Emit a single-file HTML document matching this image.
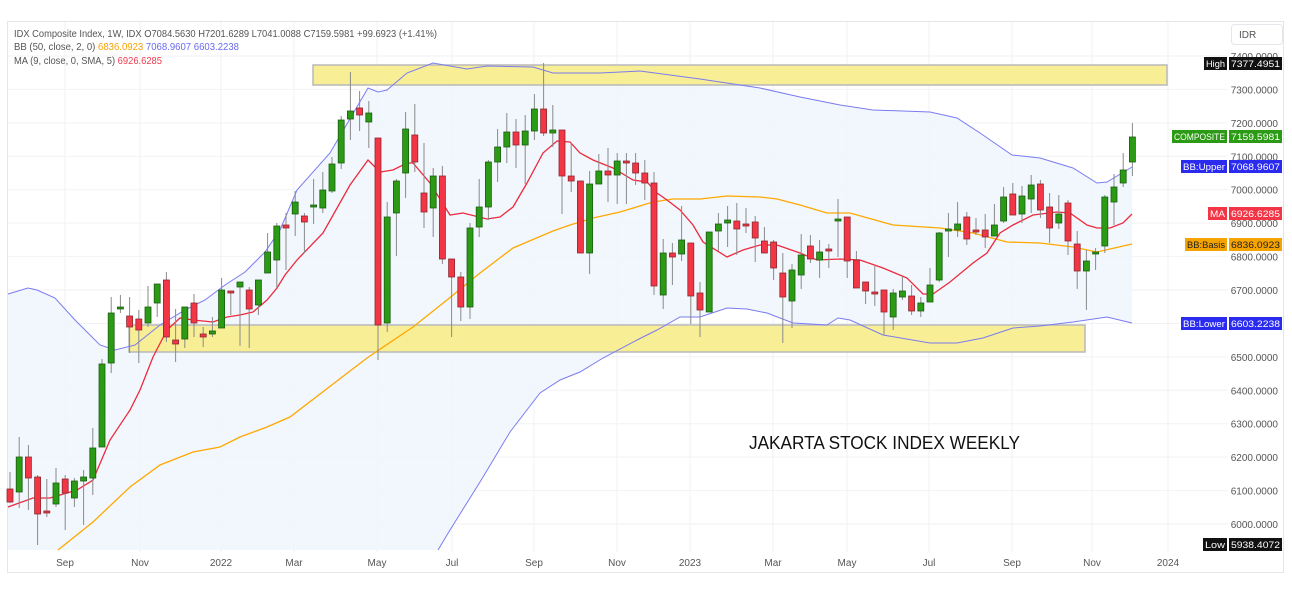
<!DOCTYPE html>
<html><head><meta charset="utf-8"><style>
body{margin:0;background:#fff;}
svg{display:block;font-family:"Liberation Sans","DejaVu Sans",sans-serif;}
</style></head><body>
<svg id="s" width="1292" height="601" viewBox="0 0 1292 601" xmlns="http://www.w3.org/2000/svg">
<rect x="0" y="0" width="1292" height="601" fill="#fff"/>
<rect x="7.5" y="21.5" width="1276" height="551" fill="#fff" stroke="#e4e6eb"/>
<g id="grid" stroke="#f0f2f5" stroke-width="1"></g>
<path id="fill" fill="#eef5fc" fill-opacity="0.8"/>
<rect x="313" y="65" width="854" height="20" fill="#f7ee95" stroke="#b9b9b9" stroke-width="1.5"/>
<rect x="129" y="325" width="956" height="27" fill="#f7ee95" stroke="#b9b9b9" stroke-width="1.5"/>
<polyline id="up" fill="none" stroke="#7b7bf0" stroke-width="1"/>
<polyline id="lo" fill="none" stroke="#7b7bf0" stroke-width="1"/>
<polyline id="bs" fill="none" stroke="#ffa800" stroke-width="1.3"/>
<polyline id="ma" fill="none" stroke="#ee2a3c" stroke-width="1.3"/>
<g id="c"></g>
<g font-size="10.5" fill="#555">
<text x="14" y="37" textLength="423" lengthAdjust="spacingAndGlyphs">IDX Composite Index, 1W, IDX  O7084.5630  H7201.6289  L7041.0088  C7159.5981  +99.6923 (+1.41%)</text>
<text x="14" y="50" textLength="225" lengthAdjust="spacingAndGlyphs">BB (50, close, 2, 0)  <tspan fill="#f5a300">6836.0923</tspan>  <tspan fill="#6a6af2">7068.9607</tspan>  <tspan fill="#6a6af2">6603.2238</tspan></text>
<text x="14" y="64" textLength="148" lengthAdjust="spacingAndGlyphs">MA (9, close, 0, SMA, 5)  <tspan fill="#ee3a4a">6926.6285</tspan></text>
</g>
<text x="749" y="449" font-size="18" fill="#111" textLength="271" lengthAdjust="spacingAndGlyphs">JAKARTA STOCK INDEX WEEKLY</text>
<rect x="1231.5" y="24.5" width="51" height="20" rx="3" fill="#fff" stroke="#e4e6eb"/>
<text x="1239" y="38" font-size="10" fill="#555">IDR</text>
<g id="ax" font-size="10" fill="#555" text-anchor="end"></g>
<g id="tx" font-size="10" fill="#555" text-anchor="middle"></g>
<g id="tags" font-size="9.5"></g>
</svg>
<script>
const NS="http://www.w3.org/2000/svg";
function el(p,t,a,txt){const e=document.createElementNS(NS,t);for(const k in a)e.setAttribute(k,a[k]);if(txt!=null)e.textContent=txt;document.getElementById(p).appendChild(e);return e;}
const Y=p=>56+(7400-p)*0.3343;
for(let p=6000;p<=7400;p+=100){const y=Y(p);el('grid','line',{x1:8,x2:1228,y1:y,y2:y});el('ax','text',{x:1278,y:y+4},p.toFixed(4));}
const months=[[65,'Sep'],[140,'Nov'],[221,'2022'],[294,'Mar'],[377,'May'],[452,'Jul'],[534,'Sep'],[617,'Nov'],[690,'2023'],[773,'Mar'],[847,'May'],[929,'Jul'],[1012,'Sep'],[1092,'Nov'],[1168,'2024']];
months.forEach(m=>{el('grid','line',{x1:m[0],x2:m[0],y1:22,y2:552});el('tx','text',{x:m[0],y:566},m[1]);});
const C=[[472,503,489,502,0],[437,508,457,492,1],[445,510,457,478,0],[475,545,477,514,0],[479,517,511,513,0],[468,507,483,504,1],[475,530,479,493,0],[478,507,481,498,1],[470,525,477,481,1],[428,495,448,478,1],
[359,447,364,447,1],[297,373,313,363,1],[295,313,307,309,1],[297,353,316,327,0],[310,363,319,330,0],[286,327,307,323,1],[284,317,284,303,1],[272,342,280,337,0],[309,362,340,344,0],[307,348,307,339,1],
[294,337,303,323,0],[327,347,334,337,0],[317,337,331,334,1],[278,328,290,328,1],[291,315,291,293,0],[282,346,282,287,1],[287,348,290,309,0],[280,315,280,305,1],[233,273,252,273,1],[223,288,226,260,1],
[213,270,225,228,0],[191,236,202,214,1],[213,253,216,222,0],[179,224,205,207,1],[172,213,190,208,1],[157,193,164,191,1],[116,169,120,163,1],[72,140,111,119,1],[91,131,108,115,0],[101,148,113,122,1],
[138,360,138,325,0],[202,332,217,323,1],[179,256,181,213,1],[112,198,129,173,1],[104,172,135,162,0],[143,228,193,212,0],[168,237,176,208,1],[166,264,176,259,0],[259,337,259,277,0],[272,321,277,307,0],
[223,319,228,307,1],[179,237,207,227,1],[160,220,162,207,1],[129,182,147,162,1],[113,163,132,147,1],[119,168,132,145,0],[115,184,131,145,1],[94,140,109,131,1],[63,136,109,133,0],[105,147,130,133,1],
[130,214,130,176,0],[143,192,176,181,0],[181,253,181,253,0],[171,274,184,253,1],[154,184,171,184,1],[148,202,171,175,0],[153,204,161,175,1],[153,204,161,163,0],[153,185,163,173,0],[160,200,173,183,0],
[172,295,183,286,0],[239,309,253,295,1],[243,285,253,257,0],[206,261,240,254,1],[243,324,243,296,0],[282,337,293,310,0],[232,312,232,312,1],[213,251,224,231,1],[206,247,220,223,1],[203,255,221,229,0],
[208,233,224,226,0],[216,262,222,238,0],[227,253,241,253,0],[240,280,242,268,0],[253,343,273,297,0],[264,328,270,301,1],[234,289,255,275,1],[235,263,246,259,0],[240,278,252,260,1],[244,268,249,251,0],
[199,257,219,221,1],[217,278,217,261,0],[251,288,260,288,0],[282,304,282,291,0],[266,306,292,294,0],[290,335,290,312,0],[289,330,293,317,1],[277,300,291,297,1],[285,315,296,311,0],[297,317,303,311,1],
[268,302,285,302,1],[232,282,233,280,1],[213,257,229,231,1],[202,237,224,230,1],[212,245,217,239,0],[218,235,230,232,0],[214,248,230,237,0],[204,236,225,236,1],[187,223,197,221,1],[183,215,194,215,0],
[186,223,196,214,1],[175,213,185,199,1],[180,218,184,210,0],[193,243,207,228,0],[195,229,214,223,1],[200,255,203,241,0],[231,289,244,271,0],[250,310,261,271,1],[248,270,252,254,1],[195,253,197,246,1],
[174,225,187,202,1],[153,187,170,183,1],[123,176,137,162,1]];
C.forEach((c,i)=>{const x=10+9.2*i;const g=c[4];
el('c','line',{x1:x,x2:x,y1:c[0],y2:c[1],stroke:'#8a8a8a','stroke-width':1});
const h=Math.max(2,c[3]-c[2]);
el('c','rect',{x:x-3,y:c[2],width:6,height:h,fill:g?'#2b9a14':'#f23645',stroke:g?'#1c5f10':'#8f2a30','stroke-width':0.8});});
const up=[[8,294],[28,288],[37,290],[55,298],[75,320],[100,345],[115,350],[135,345],[160,325],[185,310],[205,300],[225,285],[245,272],[265,252],[280,230],[297,190],[330,153],[368,88],[378,92],[387,90],[407,73],[433,63],[467,69],[487,66],[533,67],[553,73],[600,73],[640,71],[700,79],[760,88],[800,97],[840,105],[873,110],[930,112],[957,118],[980,133],[1012,155],[1040,158],[1073,168],[1097,183],[1107,182],[1132,167]];
const lo=[[438,550],[450,530],[480,482],[510,432],[540,393],[560,380],[580,372],[603,358],[637,340],[657,330],[680,317],[700,317],[727,308],[747,309],[767,313],[793,323],[827,325],[838,318],[850,320],[883,335],[930,343],[957,343],[983,338],[1013,328],[1040,326],[1073,322],[1107,317],[1132,323]];
const bs=[[58,550],[93,522],[130,487],[160,465],[193,452],[220,447],[240,437],[267,427],[290,417],[367,358],[413,327],[447,300],[480,273],[513,248],[553,231],[570,225],[593,218],[620,212],[653,202],[673,199],[700,199],[727,196],[760,197],[777,199],[800,205],[827,213],[850,213],[893,225],[940,228],[973,233],[1007,242],[1040,243],[1073,247],[1097,252],[1132,244]];
const ma=[[8,507],[33,498],[50,498],[77,490],[93,480],[110,440],[130,410],[140,390],[153,357],[167,330],[180,318],[193,320],[213,322],[227,317],[240,315],[253,312],[267,300],[277,288],[285,275],[297,260],[323,233],[350,185],[368,160],[380,172],[393,170],[407,163],[413,163],[430,183],[450,215],[463,213],[487,219],[500,217],[513,207],[527,183],[543,153],[557,141],[570,142],[580,153],[593,160],[613,168],[633,180],[647,182],[657,193],[667,200],[680,210],[693,225],[703,242],[727,257],[743,250],[760,245],[777,245],[800,253],[817,260],[840,259],[860,260],[883,268],[907,278],[923,294],[933,294],[950,282],[973,263],[987,253],[1000,233],[1013,225],[1033,215],[1057,212],[1070,213],[1087,225],[1097,228],[1110,228],[1123,223],[1132,214]];
const pts=a=>a.map(p=>p.join(',')).join(' ');
document.getElementById('up').setAttribute('points',pts(up));
document.getElementById('lo').setAttribute('points',pts(lo));
document.getElementById('bs').setAttribute('points',pts(bs));
document.getElementById('ma').setAttribute('points',pts(ma));
const fl=up.concat(lo.slice().reverse()).concat([[8,550]]);
document.getElementById('fill').setAttribute('d','M'+fl.map(p=>p.join(',')).join(' L')+'Z');
const tags=[[57,'High',1204,'#111','7377.4951'],[130,'COMPOSITE',1172,'#2b9a14','7159.5981'],[160,'BB:Upper',1181,'#2b2bf0','7068.9607'],[207,'MA',1208,'#f23645','6926.6285'],[238,'BB:Basis',1185,'#f5a300','6836.0923'],[317,'BB:Lower',1181,'#2b2bf0','6603.2238'],[538,'Low',1203,'#111','5938.4072']];
tags.forEach(t=>{const col=t[3];const fg=(col=='#f5a300')?'#222':'#fff';const w=1227-t[2];
el('tags','rect',{x:t[2],y:t[0],width:w,height:13,fill:col});
el('tags','text',{x:t[2]+2,y:t[0]+10,fill:fg,textLength:w-4,lengthAdjust:'spacingAndGlyphs'},t[1]);
el('tags','rect',{x:1229,y:t[0],width:53,height:13,fill:col});
el('tags','text',{x:1231,y:t[0]+10,fill:fg,textLength:49,lengthAdjust:'spacingAndGlyphs'},t[4]);});
</script>
</body></html>
